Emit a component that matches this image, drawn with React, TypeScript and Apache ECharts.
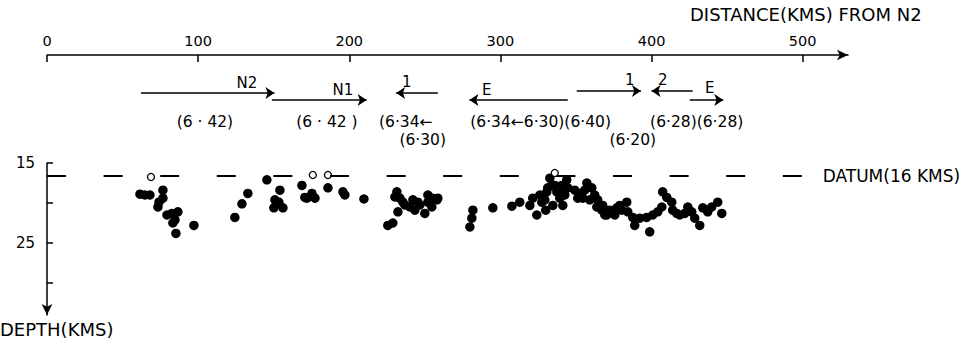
import React, { useEffect, useRef } from 'react';
import * as echarts from 'echarts';

const FONT = 'DejaVu Sans';

// Distance axis (km from N2)
const X_MIN = 0;
const X_MAX = 530;
const xTicks = [0, 100, 200, 300, 400, 500];

// Depth axis (km)
const Y_MIN = 15;
const Y_MAX = 34;
const yTicks = [15, 20, 25, 30];
const yLabels = [15, 25];

const DATUM_DEPTH = 16.6;
const DATUM_END_KM = 500;
const DATUM_LABEL = 'DATUM(16 KMS)';

// Filled circles: [distance km, depth km]
const clusterN2: [number, number][] = [
  [61.5, 18.9], [64.8, 19.0], [68.1, 19.0], [76.7, 18.4], [76.7, 19.4], [74.1, 19.9],
  [73.4, 20.5], [79.4, 21.5], [82.7, 21.3], [86.6, 21.1], [84.7, 22.1], [83.3, 22.5],
  [85.3, 23.8], [97.2, 22.8],
];
const clusterN1: [number, number][] = [
  [124.3, 21.8], [129.0, 20.1], [132.9, 18.8], [145.5, 17.1], [154.1, 18.4], [150.8, 19.6],
  [153.4, 19.9], [150.1, 20.6], [156.1, 20.6], [168.7, 17.8], [170.6, 19.3], [172.0, 19.4],
  [175.3, 18.8], [177.3, 19.4], [185.9, 18.1], [195.8, 18.6], [197.1, 19.0], [209.7, 19.5],
];
const clusterMid: [number, number][] = [
  [231.5, 18.6], [233.5, 19.4], [235.5, 19.9], [232.2, 21.1], [228.8, 22.5], [225.5, 22.8],
  [240.1, 20.5], [243.4, 20.9], [245.4, 19.9], [250.0, 21.3], [252.0, 19.9], [255.3, 19.4],
  [258.0, 19.6], [254.6, 20.5], [230.2, 19.25], [236.8, 20.25], [242.1, 19.6], [246.7, 20.25],
  [252.0, 19.0], [258.6, 19.4],
  [281.8, 20.9], [281.1, 21.9], [279.8, 23.0], [295.0, 20.6],
];
const clusterE: [number, number][] = [
  [307.6, 20.4], [312.8, 19.9], [319.5, 20.3], [321.4, 19.4], [324.1, 21.5], [326.1, 19.0],
  [327.4, 19.9], [330.7, 18.6], [332.7, 16.9], [334.0, 17.8], [337.3, 18.6], [339.3, 19.4],
  [341.3, 20.3], [343.9, 17.1], [344.6, 18.1], [340.6, 17.8], [351.2, 19.4], [352.5, 18.8],
  [357.2, 17.5], [360.5, 18.1], [362.4, 19.0], [363.8, 20.5], [367.1, 20.9], [370.4, 21.5],
  [373.7, 21.1], [377.0, 20.6], [379.0, 20.3], [383.6, 19.9], [384.3, 21.1], [387.6, 21.8],
  [388.9, 22.8], [392.2, 21.9], [396.8, 21.8], [398.8, 23.6],
  [329.4, 19.6], [331.3, 18.1], [336.0, 17.8], [339.3, 18.4], [342.6, 19.0], [334.7, 20.3],
  [330.0, 20.9], [349.2, 18.4], [354.5, 19.4], [359.1, 19.6], [355.8, 18.4], [364.4, 19.6],
  [367.7, 20.3], [372.3, 20.9], [375.7, 21.5], [369.1, 21.5], [380.3, 20.9],
];
const clusterEast: [number, number][] = [
  [400.8, 21.5], [404.1, 21.1], [406.8, 20.5], [407.4, 18.6], [410.1, 19.3], [413.4, 19.9],
  [414.0, 20.9], [416.7, 21.3], [418.7, 21.5], [422.0, 21.3], [424.0, 20.5], [426.6, 21.1],
  [428.6, 21.9], [431.9, 22.8], [433.9, 20.6], [437.2, 21.1], [439.8, 20.5], [443.8, 19.9],
  [446.5, 21.3],
];
// Open circles
const openEvents: [number, number][] = [
  [68.8, 16.75], [175.9, 16.5], [185.9, 16.5], [336.0, 16.25],
];

// Refraction profile arrows (start km, end km, row)
const arrowFrom = [62.2, 148.8, 258.6, 344.6, 350.5, 427.2, 425.3];
const arrowTo = [150.5, 211.5, 231.0, 279.5, 393.0, 400.0, 447.5];
const arrowRow = [1.3, 2.0, 1.3, 2.0, 1.1, 1.1, 2.0];

// Arrow names
const arrowNames = ['N2', 'N1', '1', 'E', '1', '2', 'E'];
const arrowNameKm = [132.3, 195.8, 238.1, 291.0, 385.6, 407.4, 438.5];
const arrowNameRow = [0.3, 1.0, 0.2, 1.0, 0.0, 0.0, 0.8];

// Velocities (km/s)
const velocityTexts = ['(6 · 42)', '(6 · 42 )', '(6·34←', '(6·30)', '(6·34←6·30)(6·40)', '(6·20)', '(6·28)(6·28)'];
const velocityKm = [104.5, 185.2, 237.4, 248.6, 326.6, 387.6, 429.9];
const velocityRow = [4.2, 4.2, 4.2, 6.0, 4.2, 6.0, 4.2];

const GRID_LEFT = 47;
const GRID_WIDTH = 801;

export default function App() {
  const ref = useRef<HTMLDivElement>(null);
  useEffect(() => {
    if (!ref.current) return;
    const chart = echarts.init(ref.current, null, { renderer: 'svg' });
    const txt = { color: '#000', fontFamily: FONT };
    const filled = [...clusterN2, ...clusterN1, ...clusterMid, ...clusterE, ...clusterEast];
    chart.setOption({
      animation: false,
      backgroundColor: '#fff',
      title: [
        { text: 'DISTANCE(KMS) FROM N2', left: 690, top: 5, padding: 0,
          textStyle: { ...txt, fontSize: 18, fontWeight: 'normal' } },
        { text: 'DEPTH(KMS)', left: 0, top: 320, padding: 0,
          textStyle: { ...txt, fontSize: 18, fontWeight: 'normal' } },
      ],
      grid: [
        { left: GRID_LEFT, width: GRID_WIDTH, top: 55, height: 1 },
        { left: GRID_LEFT, width: GRID_WIDTH, top: 80, height: 60 },
        { left: GRID_LEFT, width: GRID_WIDTH, top: 163, height: 152 },
      ],
      xAxis: [
        {
          gridIndex: 0, type: 'value', position: 'top', min: X_MIN, max: X_MAX,
          axisLine: { show: true, onZero: false, symbol: ['none', 'arrow'], symbolSize: [8, 11],
            lineStyle: { color: '#000', width: 1.5 } },
          axisTick: { show: true, inside: true, length: 7, customValues: xTicks,
            lineStyle: { color: '#000', width: 1.5 } },
          axisLabel: { show: true, customValues: xTicks, ...txt, fontSize: 14.5, margin: 7 },
          splitLine: { show: false },
        },
        { gridIndex: 1, type: 'value', min: X_MIN, max: X_MAX, show: false },
        { gridIndex: 2, type: 'value', min: X_MIN, max: X_MAX, show: false },
      ],
      yAxis: [
        { gridIndex: 0, type: 'value', show: false },
        { gridIndex: 1, type: 'value', min: 0, max: 6, inverse: true, show: false },
        {
          gridIndex: 2, type: 'value', min: Y_MIN, max: Y_MAX, inverse: true,
          axisLine: { show: true, onZero: false, symbol: ['arrow', 'none'], symbolSize: [8, 11],
            lineStyle: { color: '#000', width: 1.5 } },
          axisTick: { show: true, inside: true, length: 6, customValues: yTicks,
            lineStyle: { color: '#000', width: 1.5 } },
          axisLabel: { show: true, customValues: yLabels, ...txt, fontSize: 15, margin: 12 },
          splitLine: { show: false },
        },
      ],
      series: [
        {
          type: 'scatter', xAxisIndex: 2, yAxisIndex: 2, data: filled, symbolSize: 9.5,
          itemStyle: { color: '#000', opacity: 1 }, clip: false, silent: true,
          markLine: {
            silent: true, symbol: 'none',
            lineStyle: { type: [19, 37.6], color: '#000', width: 1.8 },
            label: { show: true, position: 'end', distance: 20, formatter: DATUM_LABEL, ...txt, fontSize: 17 },
            data: [[{ coord: [X_MIN, DATUM_DEPTH] }, { coord: [DATUM_END_KM, DATUM_DEPTH] }]],
          },
        },
        {
          type: 'scatter', xAxisIndex: 2, yAxisIndex: 2, data: openEvents, symbolSize: 7,
          itemStyle: { color: '#fff', borderColor: '#000', borderWidth: 1.3, opacity: 1 },
          clip: false, silent: true, z: 3,
        },
        {
          type: 'lines', coordinateSystem: 'cartesian2d', xAxisIndex: 1, yAxisIndex: 1,
          symbol: ['none', 'arrow'], symbolSize: 9, silent: true,
          lineStyle: { color: '#000', width: 1.5, opacity: 1 },
          data: arrowFrom.map((f, i) => ({ coords: [[f, arrowRow[i]], [arrowTo[i], arrowRow[i]]] })),
        },
        {
          type: 'scatter', xAxisIndex: 1, yAxisIndex: 1, symbolSize: 1, clip: false, silent: true,
          itemStyle: { color: 'rgba(0,0,0,0)', opacity: 1 },
          label: { show: true, position: 'inside', formatter: '{b}', ...txt, fontSize: 15 },
          data: arrowNames.map((n, i) => ({ name: n, value: [arrowNameKm[i], arrowNameRow[i]] })),
        },
        {
          type: 'scatter', xAxisIndex: 1, yAxisIndex: 1, symbolSize: 1, clip: false, silent: true,
          itemStyle: { color: 'rgba(0,0,0,0)', opacity: 1 },
          label: { show: true, position: 'inside', formatter: '{b}', ...txt, fontSize: 15.5 },
          data: velocityTexts.map((n, i) => ({ name: n, value: [velocityKm[i], velocityRow[i]] })),
        },
      ],
    });
    return () => chart.dispose();
  }, []);
  return (
    <div
      ref={ref}
      style={{ position: 'fixed', left: 0, top: 0, width: 978, height: 342, background: '#fff' }}
    />
  );
}
